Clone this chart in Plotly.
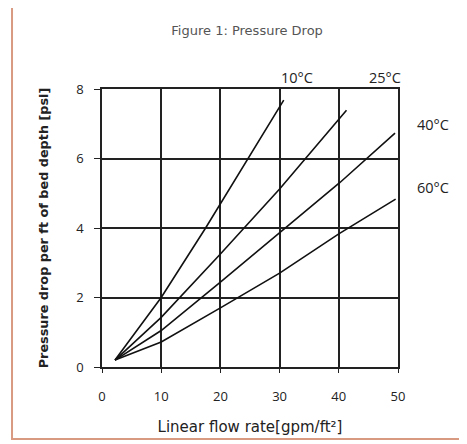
import plotly.graph_objects as go

# Values
series_names = ["10°C", "25°C", "40°C", "60°C"]
flow_10 = [2.2, 10, 17.5, 24.6, 30.7]
drop_10 = [0.2, 2.0, 4.0, 6.0, 7.68]
flow_25 = [2.2, 10, 20, 30, 41.3]
drop_25 = [0.2, 1.43, 3.25, 5.12, 7.39]
flow_40 = [2.2, 10, 20, 30, 40.2, 49.5]
drop_40 = [0.2, 1.05, 2.44, 3.87, 5.31, 6.73]
flow_60 = [2.2, 10, 20, 30, 40, 49.6]
drop_60 = [0.2, 0.72, 1.70, 2.70, 3.83, 4.83]

x_ticks = [0, 10, 20, 30, 40, 50]
y_ticks = [0, 2, 4, 6, 8]

# label positions (paper coords) next to the line ends
label_x = [0.659, 0.956, 1.118, 1.118]
label_y = [1.043, 1.043, 0.871, 0.647]

WIDE = "'DejaVu Sans', sans-serif"
NARROW = "'Open Sans', sans-serif"
INK = "#222222"

fig = go.Figure()
for fx, fy, name in [(flow_10, drop_10, series_names[0]),
                     (flow_25, drop_25, series_names[1]),
                     (flow_40, drop_40, series_names[2]),
                     (flow_60, drop_60, series_names[3])]:
    fig.add_trace(go.Scatter(x=fx, y=fy, mode="lines", name=name,
                             line=dict(color="#111111", width=1.6)))

for name, lx, ly in zip(series_names, label_x, label_y):
    fig.add_annotation(x=lx, y=ly, xref="paper", yref="paper", text=name, showarrow=False,
                       xanchor="center", yanchor="middle",
                       font=dict(family=NARROW, size=14.5, color=INK))

# orange frame around the whole chart
fig.add_shape(type="rect", xref="paper", yref="paper",
              x0=-0.304, x1=1.2196, y0=-0.259, y1=1.2986,
              line=dict(color="#d99a82", width=2), fillcolor="rgba(0,0,0,0)")

fig.update_layout(
    width=467, height=444,
    margin=dict(l=94, r=77, t=81, b=85),
    paper_bgcolor="white", plot_bgcolor="white",
    showlegend=False,
    font=dict(family=NARROW, color=INK),
    title=dict(text="Figure 1: Pressure Drop", x=0.512, y=0.950,
               xanchor="center", yanchor="middle",
               font=dict(family=WIDE, size=13, color="#555555")),
)
fig.update_xaxes(range=[0, 50], tickvals=x_ticks, showgrid=True, gridcolor=INK,
                 gridwidth=1.6, zeroline=False, showline=True, mirror=True, linecolor=INK,
                 linewidth=1.6, ticks="outside", ticklen=4, tickcolor=INK,
                 ticklabelstandoff=13,
                 tickfont=dict(family=NARROW, size=13, color=INK),
                 title=dict(text="Linear flow rate[gpm/ft²]", standoff=17,
                            font=dict(family=WIDE, size=15, color=INK)))
fig.update_yaxes(range=[0, 8], tickvals=y_ticks, showgrid=True, gridcolor=INK,
                 gridwidth=1.6, zeroline=False, showline=True, mirror=True, linecolor=INK,
                 linewidth=1.6, ticks="outside", ticklen=6, tickcolor=INK,
                 ticklabelstandoff=8,
                 tickfont=dict(family=NARROW, size=13, color=INK),
                 title=dict(text="<b>Pressure drop per ft of bed depth [psi]</b>", standoff=25,
                            font=dict(family=WIDE, size=12.8, color=INK)))

fig.write_html("out.html")
